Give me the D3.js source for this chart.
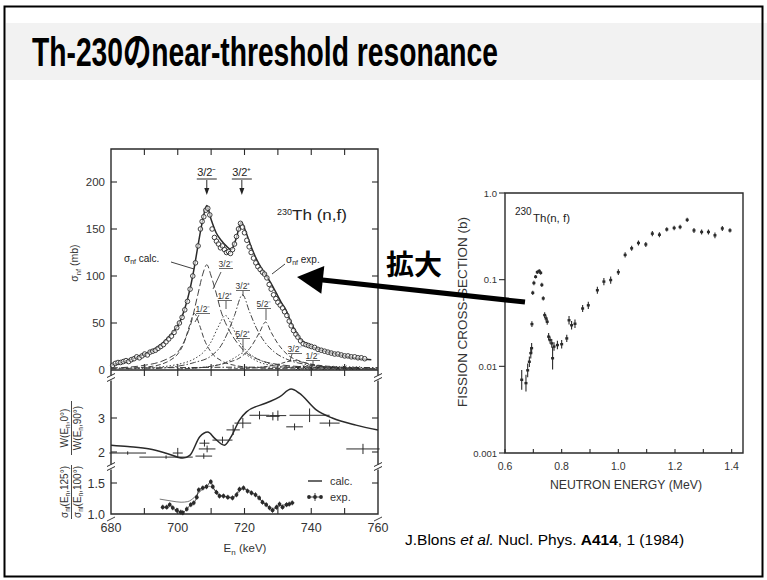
<!DOCTYPE html>
<html><head><meta charset="utf-8">
<script src="https://cdn.jsdelivr.net/npm/d3@7"></script>
<style>
html,body{margin:0;padding:0;background:#fff;}
svg{display:block;font-family:"Liberation Sans",Arial,"Noto Sans CJK JP",sans-serif;}
</style></head><body>
<svg id="c" width="767" height="580"></svg>
<script>
// ---------- DATA ----------
const titleText = "Th-230のnear-threshold resonance";
const citeText = ["J.Blons ", "et al.", " Nucl. Phys. ", "A414", ", 1 (1984)"];

// Left chart, top panel: sigma_nf (mb) vs E_n (keV)
const xTicksL = [680, 700, 720, 740, 760];
const yTicksTop = [0, 50, 100, 150, 200];
const totalCalc = [[680,5],[684,9],[688,14],[692,20],[695,27],[697,34],[699,42],[700.6,51],[702,64],[703.6,85],[705,110],[706,131],[707.5,160],[708.7,175],[710,160],[711.5,146],[713,138],[714.5,132],[716,128],[717.5,140],[719,157],[720.5,146],[722,131],[724,115],[726,103],[728,92],[729.5,82],[731,72],[732.4,64],[734,50],[735.5,40],[736.5,34],[738,29],[740,25],[743,21],[746,18],[750,15],[755,12],[758,11]];
const comp1 = [[680,1],[690,3],[695,6],[698,11],[700,17],[702,30],[703.5,47],[705,60],[706.5,48],[708,32],[710,19],[713,10],[717,5],[725,2],[740,1],[760,0.5]];
const comp2 = [[680,2],[690,5],[695,9],[698,14],[700,19],[702,31],[704,50],[706,80],[707.5,102],[708.7,112],[710,100],[711.5,82],[713,62],[715,45],[717,33],[720,20],[725,10],[730,6],[740,3],[760,1]];
const comp3 = [[685,1],[690,2],[700,6],[705,12],[708,20],[710,30],[712,45],[714.3,58],[716.5,45],[718.5,30],[721,19],[725,10],[730,5],[740,2],[760,1]];
const comp4 = [[690,1],[700,4],[705,8],[710,15],[713,26],[715,40],[717,58],[719.4,80],[721.5,62],[723.5,45],[726,30],[729,19],[733,11],[740,5],[750,2],[760,1]];
const comp5 = [[700,1],[710,4],[715,9],[717.5,14],[719.5,18],[721.5,14],[724,9],[730,4],[740,1.5],[760,0.5]];
const comp6 = [[700,1],[710,4],[715,8],[719,14],[722,25],[724.5,40],[726.3,51],[728,40],[730,28],[733,16],[737,9],[745,4],[760,1.5]];
const comp7 = [[715,1],[725,3],[730,6],[733,9],[735,10],[737,8.5],[740,6],[745,3],[755,1]];
const comp8 = [[725,1],[735,3],[740,5],[743,4],[750,2],[760,1]];
const baseLine = [[680,2],[700,2.5],[720,3],[740,3],[760,2.5]];
const baseCrossE = [736,738,740,742,744,746,748,750,752,754];
const baseCrossV = [2,2.5,2,2.5,2,2.5,2,2.5,2,2];
const expSigma = [[680.5,5],[681.3,7],[682.1,8],[682.9,8],[683.7,9],[684.5,10],[685.3,9],[686.1,11],[686.9,12],[687.7,14],[688.5,13],[689.3,15],[690.1,17],[690.9,16],[691.7,19],[692.5,20],[693.3,21],[694.1,23],[694.9,25],[695.7,27],[696.5,30],[697.3,33],[698.1,36],[698.9,40],[699.7,45],[700.5,50],[701.3,56],[702.1,64],[702.9,73],[703.7,86],[704.5,100],[705.3,114],[706.1,132],[706.8,150],[707.3,158],[707.8,163],[708.4,170],[709,172],[709.6,165],[710.3,150],[711,141],[711.6,137],[712.2,134],[712.8,130],[713.4,132],[714,128],[714.6,125],[715.2,126],[715.8,124],[716.4,128],[717,134],[717.6,142],[718.2,150],[718.8,156],[719.4,152],[720,146],[720.7,138],[721.4,131],[722,125],[722.7,119],[723.4,114],[724,110],[724.7,107],[725.4,104],[726,102],[726.7,98],[727.4,91],[728,86],[728.7,80],[729.4,76],[730,72],[730.7,69],[731.4,66],[732,62],[732.7,58],[733.4,52],[734,47],[734.7,42],[735.4,38],[736,35],[736.8,31],[737.6,28],[738.4,27],[739.2,26],[740,25],[741,24],[742,22],[743,21],[744,20],[745,19],[746,18],[747,17],[748,17],[749,16],[750,15],[751,15],[752,14],[753,14],[754,13],[755,13],[756,12]];
const peakMarkE = [708.7, 719.2];
const peakMarkLbl = ["3/2⁻", "3/2⁺"];

// Left chart, middle panel: W(0°)/W(90°)
const yTicksMid = [2, 3];
const wCalc = [[680,2.2],[685,2.16],[691.6,2.09],[697,1.95],[701.5,1.82],[703.6,1.9],[706.6,2.45],[709,2.59],[711,2.41],[714,2.2],[716,2.45],[718.5,2.94],[720.6,3.18],[726.5,3.44],[730.5,3.62],[734,3.85],[736.4,3.73],[741.5,3.24],[746.3,3.0],[753.4,2.79],[760,2.65]];
const wExpE  = [685, 696.5, 700, 708, 708.8, 707.8, 713.4, 716.6, 719.5, 724.5, 728.5, 730, 735, 739.5, 745.5, 755.5];
const wExpV  = [1.97, 1.85, 1.97, 2.26, 2.09, 1.88, 2.35, 2.65, 2.85, 3.08, 3.05, 3.07, 2.74, 3.08, 2.85, 2.09];
const wExpDE = [5.5, 8, 1.5, 1.5, 2.5, 2.5, 3, 2, 2.5, 3, 2, 2.5, 2.5, 6, 3, 5];
const wExpDV = [0.05, 0.05, 0.15, 0.1, 0.1, 0.08, 0.1, 0.15, 0.15, 0.12, 0.12, 0.15, 0.1, 0.2, 0.1, 0.15];

// Left chart, bottom panel: sigma(125°)/sigma(100°)
const yTicksBot = [1.0, 1.5];
const aCalc = [[694.6,1.24],[698,1.21],[701,1.19],[703,1.2],[705,1.27],[707,1.38],[709,1.45],[710.5,1.42],[712,1.33],[714,1.28],[716,1.27],[718,1.33],[719.5,1.41],[721,1.39],[723,1.32],[725,1.22],[727,1.13],[728.5,1.09],[730.5,1.13],[733,1.16],[735,1.18]];
const aExp = [[695.5,1.11],[696.7,1.11],[697.6,1.15],[698.5,1.1],[699.7,1.06],[700.9,1.03],[701.5,1.02],[702.7,1.08],[703.9,1.15],[704.8,1.18],[705.7,1.27],[706.3,1.39],[707.5,1.42],[708.6,1.44],[709.9,1.52],[710.5,1.44],[711.6,1.35],[712.5,1.29],[713.7,1.29],[715,1.27],[716.4,1.26],[717.6,1.31],[718.5,1.4],[719.7,1.42],[720.9,1.37],[722.1,1.34],[723.3,1.31],[724.4,1.26],[725.4,1.19],[726.5,1.15],[727.5,1.1],[728.4,1.06],[729.6,1.11],[730.5,1.16],[731.4,1.11],[732.6,1.15],[733.4,1.16],[734.3,1.18]];

// Right chart: fission cross-section (b) vs neutron energy (MeV)
const xTicksR = [0.6, 0.8, 1.0, 1.2, 1.4];
const yTicksR = [0.001, 0.01, 0.1, 1.0];
const yTickLblR = ["0.001", "0.01", "0.1", "1.0"];
const rE = [0.659,0.674,0.680,0.686,0.691,0.694,0.695,0.698,0.702,0.708,0.714,0.721,0.726,0.730,0.735,0.740,0.745,0.749,0.754,0.759,0.765,0.768,0.773,0.785,0.800,0.818,0.826,0.835,0.847,0.874,0.894,0.926,0.949,0.973,1.000,1.024,1.047,1.071,1.097,1.120,1.145,1.171,1.197,1.218,1.243,1.267,1.294,1.318,1.341,1.367,1.394];
const rV = [0.0070,0.0064,0.0090,0.0113,0.0142,0.0162,0.0307,0.0705,0.0915,0.108,0.122,0.126,0.120,0.087,0.0608,0.039,0.0357,0.0327,0.022,0.0201,0.0184,0.0124,0.0169,0.0176,0.018,0.021,0.034,0.0298,0.031,0.0465,0.0506,0.0755,0.095,0.099,0.122,0.193,0.23,0.265,0.255,0.34,0.33,0.38,0.395,0.405,0.49,0.37,0.355,0.355,0.325,0.39,0.37];
const rErr = [1.3,1.25,1.2,1.15,1.15,1.15,1.08,1.06,1.06,1.05,1.05,1.05,1.05,1.06,1.06,1.08,1.08,1.08,1.1,1.1,1.12,1.35,1.12,1.12,1.12,1.1,1.12,1.12,1.12,1.1,1.1,1.1,1.1,1.1,1.08,1.07,1.07,1.07,1.07,1.07,1.07,1.06,1.06,1.06,1.06,1.07,1.07,1.07,1.08,1.07,1.06];

// ---------- DRAW ----------
const svg = d3.select("#c");
const ink = "#2a2a2a";

// slide frame + title band
svg.append("rect").attr("x",6).attr("y",23).attr("width",761).attr("height",57).attr("fill","#f2f2f2");
svg.append("rect").attr("x",4.5).attr("y",6.5).attr("width",758).attr("height",570).attr("fill","none").attr("stroke","#000").attr("stroke-width",2);
svg.append("text").attr("x",32).attr("y",66).attr("font-size",40).attr("font-weight","bold")
  .attr("font-family","'Liberation Sans',Arial,'Noto Sans CJK JP',sans-serif")
  .attr("textLength",466).attr("lengthAdjust","spacingAndGlyphs").attr("fill","#000").text(titleText);

// citation
const cite = svg.append("text").attr("x",405).attr("y",545).attr("font-size",15.5).attr("fill","#000");
citeText.forEach((t,i)=>{
  const s = cite.append("tspan").text(t);
  if(i===1) s.attr("font-style","italic");
  if(i===3) s.attr("font-weight","bold");
});

// ======= LEFT CHART =======
const xL = d3.scaleLinear([680,760],[111,378]);
const yT = d3.scaleLinear([0,50],[370,323]);
const yM = d3.scaleLinear([2,3],[452,418]);
const yB = d3.scaleLinear([1,1.5],[514,483]);
const gL = svg.append("g");

// frame
gL.append("path").attr("d",`M111,149H378V514H111Z`).attr("fill","none").attr("stroke",ink).attr("stroke-width",1.4);
gL.append("line").attr("x1",111).attr("x2",378).attr("y1",370).attr("y2",370).attr("stroke",ink).attr("stroke-width",1.4);

// ticks
const tk = (x1,y1,x2,y2,w=1.1)=>gL.append("line").attr("x1",x1).attr("y1",y1).attr("x2",x2).attr("y2",y2).attr("stroke",ink).attr("stroke-width",w);
d3.range(690,760,10).forEach(e=>{
  tk(xL(e),149,xL(e),155);
  tk(xL(e),364,xL(e),376);
  tk(xL(e),514,xL(e),508);
});
yTicksTop.slice(1).forEach(v=>{ tk(111,yT(v),117,yT(v)); tk(378,yT(v),372,yT(v)); });
yTicksMid.forEach(v=>{ tk(111,yM(v),117,yM(v)); tk(378,yM(v),372,yM(v)); });
yTicksBot.slice(1).forEach(v=>{ tk(111,yB(v),117,yB(v)); tk(378,yB(v),372,yB(v)); });

// axis breaks
[[111,378],[111,467],[378,378],[378,467]].forEach(([x,y])=>{
  gL.append("rect").attr("x",x-3).attr("y",y-2.5).attr("width",6).attr("height",5).attr("fill","#fff");
  tk(x-4,y-0.5,x+4,y-4.5,1); tk(x-4,y+3.5,x+4,y-0.5,1);
});
[[111,520],[378,520]].forEach(([x,y])=>{ tk(x-4,y+1,x+4,y-3,0.9); });

// tick labels
const tl = (x,y,t,anchor,fs)=>gL.append("text").attr("x",x).attr("y",y).attr("text-anchor",anchor).attr("font-size",fs).attr("fill","#333").text(t);
yTicksTop.forEach(v=>tl(105,yT(v)+4,v,"end",11.5));
yTicksMid.forEach(v=>tl(105,yM(v)+4.5,v,"end",12.5));
yTicksBot.forEach(v=>tl(105,yB(v)+4.5,d3.format(".1f")(v),"end",12.5));
xTicksL.forEach(v=>tl(xL(v),532,v,"middle",12.5));
const xlab = gL.append("text").attr("x",245).attr("y",552).attr("text-anchor","middle").attr("font-size",11.5).attr("fill","#333");
xlab.append("tspan").text("E");
xlab.append("tspan").attr("font-size",8).attr("dy",2.5).text("n");
xlab.append("tspan").attr("dy",-2.5).text(" (keV)");

// y labels
const ylab1 = gL.append("text").attr("transform","translate(78,263) rotate(-90)").attr("text-anchor","middle").attr("font-size",10.5).attr("fill","#333");
ylab1.append("tspan").text("σ");
ylab1.append("tspan").attr("font-size",7.5).attr("dy",2.5).text("nf");
ylab1.append("tspan").attr("dy",-2.5).text(" (mb)");

function fracLabel(cx, cy, num, den, sym){
  const g = gL.append("g").attr("transform",`translate(${cx},${cy}) rotate(-90)`);
  const mk=(y,parts)=>{
    const t=g.append("text").attr("x",0).attr("y",y).attr("text-anchor","middle").attr("font-size",10).attr("fill","#333");
    t.append("tspan").text(sym);
    if(sym==="σ") t.append("tspan").attr("font-size",6.5).attr("dy",2).text("nf");
    t.append("tspan").attr("dy",sym==="σ"?-2:0).text("(E");
    t.append("tspan").attr("font-size",6.5).attr("dy",2).text("n");
    t.append("tspan").attr("dy",-2).text(parts+")");
  };
  mk(-4,num); mk(9,den);
  g.append("line").attr("x1",-27).attr("x2",27).attr("y1",-0.5).attr("y2",-0.5).attr("stroke","#333").attr("stroke-width",0.9);
}
fracLabel(72,428,",0°",",90°","W");
fracLabel(72,492,",125°",",100°","σ");

// curves top panel
const lineT = d3.line().x(d=>xL(d[0])).y(d=>yT(d[1])).curve(d3.curveMonotoneX);
const comps = [
  [comp1,"5,2.5"],[comp2,"7,3"],[comp3,"1.5,2"],[comp4,"6,2,1.5,2"],[comp5,"1.5,2"],[comp6,"5,2.5"],[comp7,"4,2"],[comp8,"1.5,2"]
];
comps.forEach(([c,da])=>gL.append("path").attr("d",lineT(c)).attr("fill","none").attr("stroke","#444").attr("stroke-width",1).attr("stroke-dasharray",da));
gL.append("path").attr("d",lineT(baseLine)).attr("fill","none").attr("stroke","#333").attr("stroke-width",1).attr("stroke-dasharray","6,2,1.5,2");
baseCrossE.forEach((e,i)=>{
  const x=xL(e), y=yT(baseCrossV[i]);
  tk(x-1.8,y-1.8,x+1.8,y+1.8,1); tk(x-1.8,y+1.8,x+1.8,y-1.8,1);
});
gL.append("path").attr("d",lineT(totalCalc)).attr("fill","none").attr("stroke",ink).attr("stroke-width",1.5);
gL.selectAll("circle.e").data(expSigma).join("circle").attr("class","e")
  .attr("cx",d=>xL(d[0])).attr("cy",d=>yT(d[1])).attr("r",2.3)
  .attr("fill","#fff").attr("fill-opacity",0.6).attr("stroke",ink).attr("stroke-width",0.9);

// peak markers
peakMarkE.forEach((e,i)=>{
  const x=xL(e);
  gL.append("text").attr("x",x).attr("y",176).attr("text-anchor","middle").attr("font-size",11).attr("fill","#222").text(peakMarkLbl[i]);
  tk(x-10,179,x+10,179,1);
  tk(x,180,x,192,1);
  gL.append("path").attr("d",`M${x-2.5},188L${x+2.5},188L${x},195Z`).attr("fill","#222");
});
// 230Th(n,f)
gL.append("text").attr("x",277).attr("y",215).attr("font-size",9).attr("fill","#222").text("230");
gL.append("text").attr("x",292).attr("y",220).attr("font-size",14).attr("fill","#222").attr("textLength",55).attr("lengthAdjust","spacingAndGlyphs").text("Th (n,f)");

// sigma calc / exp labels
function sigLbl(x,y,rest){
  const t=gL.append("text").attr("x",x).attr("y",y).attr("font-size",10).attr("fill","#222");
  t.append("tspan").text("σ");
  t.append("tspan").attr("font-size",7).attr("dy",2).text("nf");
  t.append("tspan").attr("dy",-2).text(rest);
}
sigLbl(124,262," calc.");
tk(171,262,194,269,0.9);
sigLbl(286,263," exp.");
tk(285,264,272,274,0.9);

// component labels
const compLbls = [
  [226,267,"3/2⁻",[221,272,213,289]],
  [203,312,"1/2⁻",[199,315,195,322]],
  [225,299,"1/2⁺",[226,301,226,309]],
  [243,289,"3/2⁺",[243,291,243,296]],
  [264,307,"5/2⁻",[266,309,266,320]],
  [243,337,"5/2⁺",[243,339,243,352]],
  [295,352,"3/2⁻",[292,354,290,361]],
  [313,359,"1/2⁻",[313,361,313,365]]
];
compLbls.forEach(([x,y,t,l])=>{
  gL.append("text").attr("x",x).attr("y",y).attr("text-anchor","middle").attr("font-size",8.5).attr("fill","#333").text(t);
  tk(x-7,y+1.5,x+7,y+1.5,0.7);
  tk(l[0],l[1],l[2],l[3],0.8);
});

// middle panel
const lineM = d3.line().x(d=>xL(d[0])).y(d=>yM(d[1])).curve(d3.curveMonotoneX);
gL.append("path").attr("d",lineM(wCalc)).attr("fill","none").attr("stroke",ink).attr("stroke-width",1.5);
wExpE.forEach((e,i)=>{
  const y=yM(wExpV[i]);
  tk(xL(e-wExpDE[i]),y,xL(e+wExpDE[i]),y,1);
  tk(xL(e),yM(wExpV[i]-wExpDV[i]),xL(e),yM(wExpV[i]+wExpDV[i]),1);
});

// bottom panel
const lineB = d3.line().x(d=>xL(d[0])).y(d=>yB(d[1])).curve(d3.curveMonotoneX);
gL.append("path").attr("d",lineB(aCalc)).attr("fill","none").attr("stroke","#555").attr("stroke-width",0.8);
gL.append("path").attr("d",lineB(aExp)).attr("fill","none").attr("stroke",ink).attr("stroke-width",0.9);
aExp.forEach(d=>{
  const x=xL(d[0]);
  tk(x,yB(d[1]-0.04),x,yB(d[1]+0.04),0.9);
  gL.append("circle").attr("cx",x).attr("cy",yB(d[1])).attr("r",1.9).attr("fill",ink);
});
// legend
tk(308,481,322,481,1.4);
gL.append("text").attr("x",330).attr("y",485).attr("font-size",11).attr("fill","#333").text("calc.");
[309,315,321].forEach(x=>gL.append("circle").attr("cx",x).attr("cy",497).attr("r",1.9).attr("fill",ink));
tk(308,497,322,497,0.9); tk(315,493,315,501,0.9);
gL.append("text").attr("x",330).attr("y",501).attr("font-size",11).attr("fill","#333").text("exp.");

// ======= RIGHT CHART =======
const xR = d3.scaleLinear([0.6,1.44],[505,743]);
const yR = d3.scaleLog([0.001,1],[453,193]);
const gR = svg.append("g");
gR.append("path").attr("d",`M505,193H743V453H505Z`).attr("fill","none").attr("stroke",ink).attr("stroke-width",1.4);
const tkR=(x1,y1,x2,y2,w=1.1)=>gR.append("line").attr("x1",x1).attr("y1",y1).attr("x2",x2).attr("y2",y2).attr("stroke",ink).attr("stroke-width",w);
d3.range(0.6,1.41,0.1).forEach(e=>tkR(xR(e),453,xR(e),449));
yTicksR.forEach(v=>tkR(499,yR(v),505,yR(v)));
yTicksR.forEach((v,i)=>gR.append("text").attr("x",497).attr("y",yR(v)+3.5).attr("text-anchor","end").attr("font-size",9.5).attr("fill","#333").text(yTickLblR[i]));
xTicksR.forEach(v=>gR.append("text").attr("x",xR(v)).attr("y",470).attr("text-anchor","middle").attr("font-size",10.5).attr("fill","#333").text(d3.format(".1f")(v)));
gR.append("text").attr("x",626).attr("y",489).attr("text-anchor","middle").attr("font-size",12).attr("fill","#333").attr("textLength",152).attr("lengthAdjust","spacingAndGlyphs").text("NEUTRON ENERGY (MeV)");
gR.append("text").attr("transform","translate(467,312) rotate(-90)").attr("text-anchor","middle").attr("font-size",12).attr("fill","#333").attr("textLength",190).attr("lengthAdjust","spacingAndGlyphs").text("FISSION CROSS-SECTION (b)");
gR.append("text").attr("x",515).attr("y",215).attr("font-size",10).attr("fill","#222").text("230");
gR.append("text").attr("x",533).attr("y",222).attr("font-size",10).attr("fill","#222").attr("textLength",37).attr("lengthAdjust","spacingAndGlyphs").text("Th(n, f)");
rE.forEach((e,i)=>{
  const x=xR(e);
  tkR(x,yR(rV[i]/rErr[i]),x,yR(rV[i]*rErr[i]),1.1);
  gR.append("rect").attr("x",x-1.5).attr("y",yR(rV[i])-1.2).attr("width",3).attr("height",2.4).attr("fill",ink);
});

// ======= ARROW + 拡大 =======
svg.append("text").attr("x",386).attr("y",275).attr("font-size",28).attr("font-weight","bold")
  .attr("font-family","'Noto Sans CJK JP',sans-serif").attr("fill","#000").text("拡大");
svg.append("line").attr("x1",525).attr("y1",302).attr("x2",318).attr("y2",279.5).attr("stroke","#000").attr("stroke-width",5);
svg.append("path").attr("d","M297,277L321.3,293.7L324.3,265.9Z").attr("fill","#000");
</script>
</body></html>
